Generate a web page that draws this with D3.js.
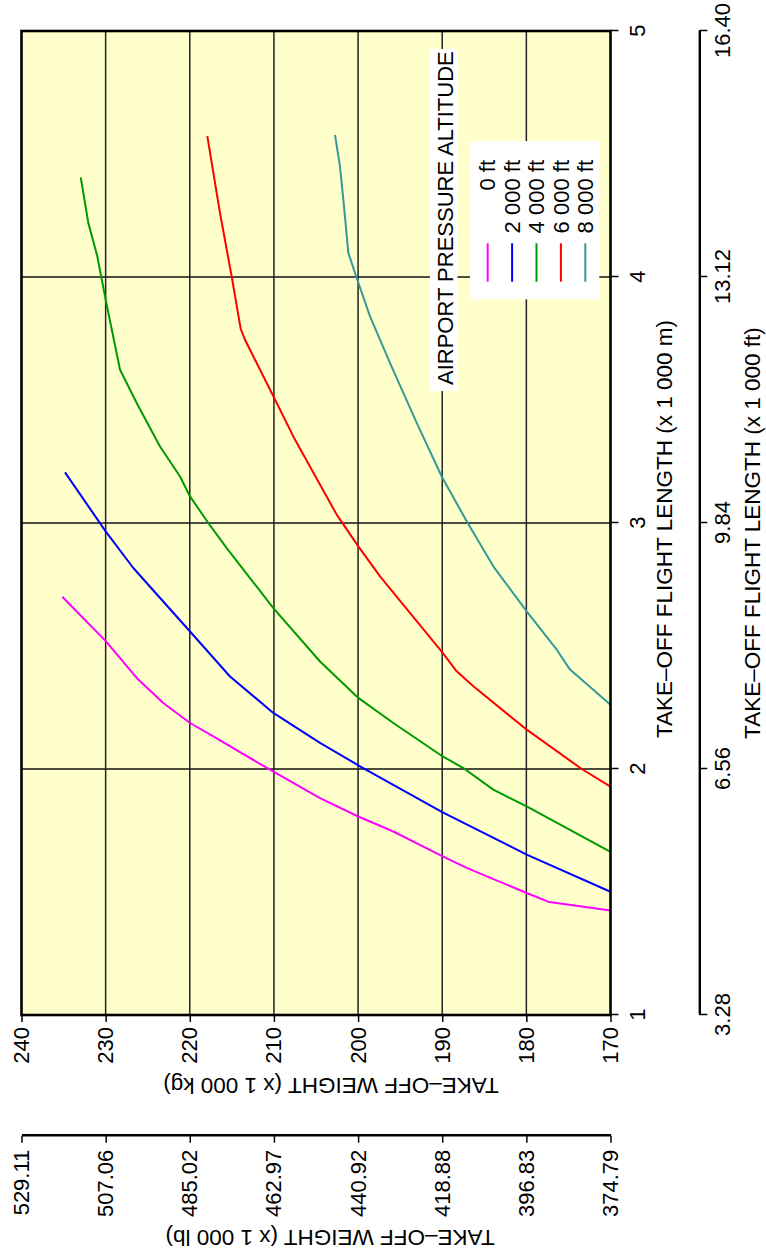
<!DOCTYPE html>
<html>
<head>
<meta charset="utf-8">
<script src="https://cdn.jsdelivr.net/npm/d3@7"></script>
<style>
  body { margin: 0; background: #fff; }
  svg text { font-family: "Liberation Sans", Arial, Helvetica, sans-serif; font-size: 22px; fill: #000; }
  svg text.title { font-size: 22.5px; }
</style>
</head>
<body>
<div id="viz"></div>
<script>
// chart values
var lengthM = [1, 2, 3, 4, 5];
var lengthFt = [3.28, 6.56, 9.84, 13.12, 16.40];
var weightKg = [170, 180, 190, 200, 210, 220, 230, 240];
var weightLb = [374.79, 396.83, 418.88, 440.92, 462.97, 485.02, 507.06, 529.11];
var altitudes = ["0 ft", "2 000 ft", "4 000 ft", "6 000 ft", "8 000 ft"];
var colors = ["#ff00ff", "#0000ff", "#009900", "#ff0000", "#339999"];

// [take-off length (x 1000 m), take-off weight (x 1000 kg)]
var alt0 = [[1.425,170],[1.459,177.27],[1.496,179.96],[1.598,187.09],[1.645,189.94],[1.746,195.81],
  [1.807,199.97],[1.882,204.52],[1.997,210.47],[2.133,217.2],[2.187,219.97],[2.268,223.15],
  [2.370,226.31],[2.519,229.96],[2.70,235.15]];
var alt2000 = [[1.501,170],[1.652,179.96],[1.824,189.94],[2.011,199.77],[2.106,204.52],[2.228,210.07],
  [2.376,215.22],[2.559,219.97],[2.817,226.71],[2.966,230.0],[3.206,234.83]];
var alt4000 = [[1.663,170],[1.848,179.96],[1.916,183.93],[2.004,187.49],[2.051,189.94],[2.187,195.81],
  [2.289,199.97],[2.437,204.52],[2.654,210.07],[2.898,215.61],[3.0,217.8],[3.108,219.97],
  [3.189,221.16],[3.311,223.54],[3.488,226.31],[3.623,228.29],[3.908,230.0],[4.084,230.99],
  [4.220,232.06],[4.405,232.96]];
var alt6000 = [[1.928,170],[2.0,173.42],[2.160,179.96],[2.336,186.30],[2.397,188.28],[2.472,189.94],
  [2.783,197.39],[2.905,199.97],[3.034,202.54],[3.352,207.70],[3.515,210.07],[3.745,213.44],
  [3.789,213.95],[4.002,215.02],[4.260,216.41],[4.574,217.92]];
var alt8000 = [[2.261,170],[2.404,174.81],[2.485,176.39],[2.641,179.96],[2.824,183.93],[3.007,187.09],
  [3.189,190.06],[3.407,193.03],[3.650,196.20],[3.840,198.58],[3.989,200.09],[4.098,201.16],
  [4.287,201.67],[4.450,202.15],[4.578,202.74]];
var series = [alt0, alt2000, alt4000, alt6000, alt8000];

// the chart is drawn landscape, then turned a quarter to the left
var svg = d3.select('#viz')
  .append('svg')
  .attr('width', 766)
  .attr('height', 1257);

var g = svg.append('g')
  .attr('transform', 'translate(0,1257) rotate(-90)');

var x = d3.scaleLinear().domain([1, 5]).range([242, 1226]);
var y = d3.scaleLinear().domain([170, 240]).range([610.5, 21.5]);
var xFt = d3.scaleLinear().domain([3.28, 16.40]).range([242, 1226]);
var yLb = d3.scaleLinear().domain([374.79, 529.11]).range([610.5, 21.5]);

// plot background
g.append('rect')
  .attr('x', x(1))
  .attr('y', y(240))
  .attr('width', x(5) - x(1))
  .attr('height', y(170) - y(240))
  .attr('fill', '#ffffcc');

// grid
g.append('g')
  .selectAll('line')
  .data(lengthM.slice(1, -1))
  .join('line')
  .attr('x1', d => x(d)).attr('x2', d => x(d))
  .attr('y1', y(170)).attr('y2', y(240))
  .attr('stroke', '#111')
  .attr('stroke-width', 1.3);

g.append('g')
  .selectAll('line')
  .data(weightKg.slice(1, -1))
  .join('line')
  .attr('x1', x(1)).attr('x2', x(5))
  .attr('y1', d => y(d)).attr('y2', d => y(d))
  .attr('stroke', '#222')
  .attr('stroke-width', 1.5);

// curves
var line = d3.line()
  .x(d => x(d[0]))
  .y(d => y(d[1]));

g.append('g')
  .selectAll('path')
  .data(series)
  .join('path')
  .attr('d', line)
  .attr('fill', 'none')
  .attr('stroke', (d, i) => colors[i])
  .attr('stroke-width', 2)
  .attr('stroke-linejoin', 'round');

// legend
g.append('rect')
  .attr('x', 866).attr('y', 430)
  .attr('width', 342).attr('height', 27.5)
  .attr('fill', '#fff');
g.append('text')
  .attr('x', 872).attr('y', 452.5)
  .text('AIRPORT PRESSURE ALTITUDE');

g.append('rect')
  .attr('x', 957.7).attr('y', 470)
  .attr('width', 158.3).attr('height', 129.3)
  .attr('fill', '#fff');

var legend = g.append('g')
  .selectAll('g')
  .data(altitudes)
  .join('g')
  .attr('transform', (d, i) => `translate(0,${487.7 + i * 24.4})`);
legend.append('line')
  .attr('x1', 975.3).attr('x2', 1013.7)
  .attr('stroke', (d, i) => colors[i])
  .attr('stroke-width', 2);
legend.append('text')
  .attr('x', 1097)
  .attr('y', 7.6)
  .attr('text-anchor', 'end')
  .text(d => d);

// frame
g.append('rect')
  .attr('x', x(1))
  .attr('y', y(240))
  .attr('width', x(5) - x(1))
  .attr('height', y(170) - y(240))
  .attr('fill', 'none')
  .attr('stroke', '#000')
  .attr('stroke-width', 2.6);

// axes
function styleAxis(sel) {
  sel.attr('font-size', null).attr('font-family', null);
  sel.selectAll('.tick line').attr('stroke', '#000').attr('stroke-width', 1.5);
  sel.select('.domain').attr('stroke', '#000').attr('stroke-width', 2.4);
}

g.append('g')
  .attr('transform', `translate(0,${y(170)})`)
  .call(d3.axisBottom(x).tickValues(lengthM).tickSize(8).tickPadding(11).tickFormat(d3.format('d')))
  .call(styleAxis)
  .call(a => a.select('.domain').remove());

g.append('g')
  .attr('transform', `translate(${x(1)},0)`)
  .call(d3.axisLeft(y).tickValues(weightKg).tickSize(7).tickPadding(5).tickFormat(d3.format('d')))
  .call(styleAxis)
  .call(a => a.select('.domain').remove());

g.append('g')
  .attr('transform', 'translate(0,699.3)')
  .call(d3.axisBottom(xFt).tickValues(lengthFt).tickSize(8).tickSizeOuter(0).tickPadding(7.2).tickFormat(d3.format('.2f')))
  .call(styleAxis);

g.append('g')
  .attr('transform', 'translate(121.3,0)')
  .call(d3.axisLeft(yLb).tickValues(weightLb).tickSize(7).tickSizeOuter(0).tickPadding(7).tickFormat(d3.format('.2f')))
  .call(styleAxis);

// axis titles
g.append('text')
  .attr('class', 'title')
  .attr('x', 728).attr('y', 672)
  .attr('text-anchor', 'middle')
  .text('TAKE\u2013OFF FLIGHT LENGTH (x 1 000 m)');
g.append('text')
  .attr('class', 'title')
  .attr('x', 724).attr('y', 760)
  .attr('text-anchor', 'middle')
  .text('TAKE\u2013OFF FLIGHT LENGTH (x 1 000 ft)');
g.append('text')
  .attr('class', 'title')
  .attr('transform', 'translate(178.7,331) rotate(-90)')
  .attr('text-anchor', 'middle')
  .text('TAKE\u2013OFF WEIGHT (x 1 000 kg)');
g.append('text')
  .attr('class', 'title')
  .attr('transform', 'translate(27,330) rotate(-90)')
  .attr('text-anchor', 'middle')
  .text('TAKE\u2013OFF WEIGHT (x 1 000 lb)');
</script>
</body>
</html>
